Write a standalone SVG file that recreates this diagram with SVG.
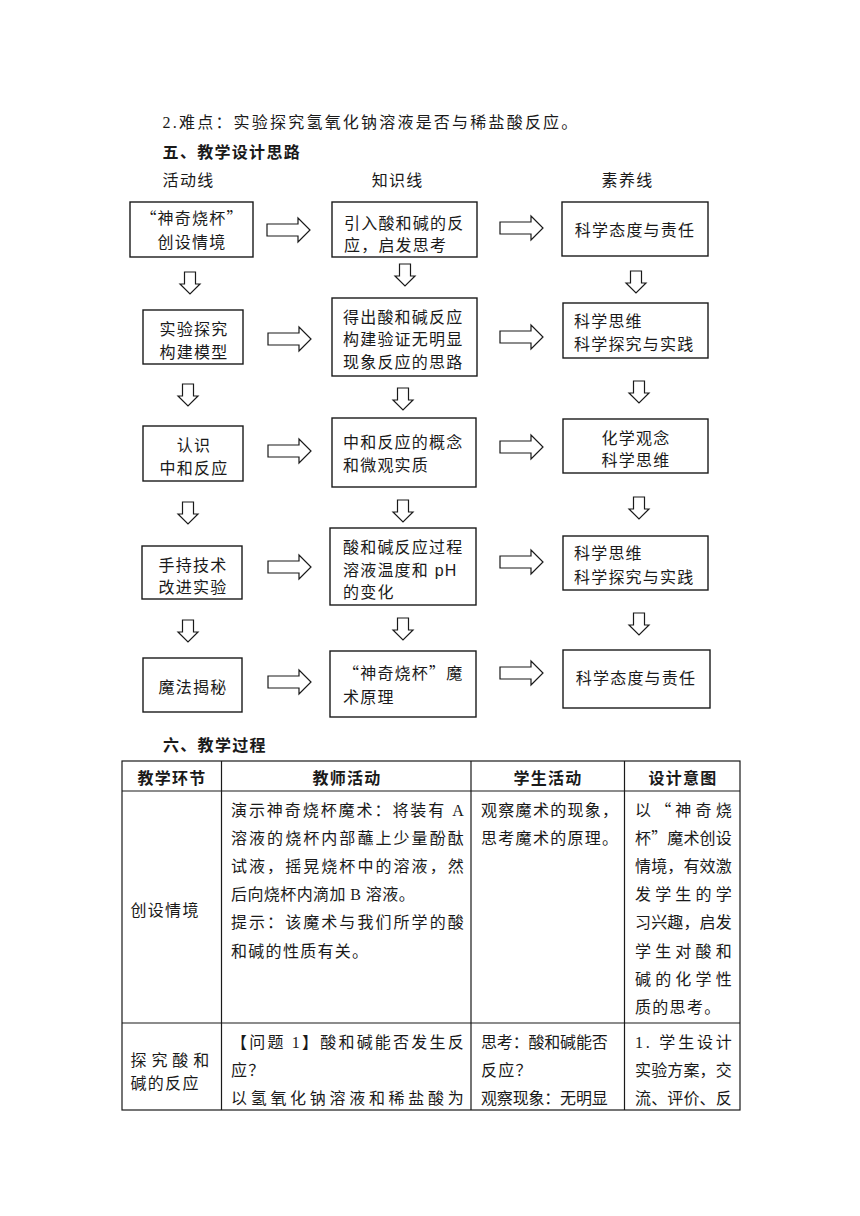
<svg xmlns="http://www.w3.org/2000/svg" width="860" height="1216" viewBox="0 0 860 1216">
<defs>
<style>
.t{font-family:"Liberation Serif","Noto Sans CJK SC",serif;font-size:16px;fill:#1a1a1a;letter-spacing:1.3px}
.f{font-family:"Liberation Sans","Noto Sans CJK SC",sans-serif;font-size:16px;fill:#1a1a1a;letter-spacing:1.2px}
.q{font-family:"Noto Sans CJK SC",sans-serif}
.m{text-anchor:middle}
.b{font-weight:bold}
.box{fill:#fff;stroke:#1a1a1a;stroke-width:1.4}
.arr{fill:#fff;stroke:#1a1a1a;stroke-width:1.2}
.tl{stroke:#1a1a1a;stroke-width:1.2;fill:none}
</style>
<path id="ra" d="M0,-6H31V-12L43,0L31,12V6H0Z"/>
<path id="da" d="M-5.5,0H5.5V12H10L0,22L-10,12H-5.5Z"/>
</defs>
<rect width="860" height="1216" fill="#fff"/>

<g id="heading">
<text class="t" x="162.6" y="128" textLength="416" lengthAdjust="spacing">2.难点：实验探究氢氧化钠溶液是否与稀盐酸反应。</text>
<text class="t b" x="162.6" y="158">五、教学设计思路</text>
<text class="t" x="162.6" y="186">活动线</text>
<text class="t" x="371.7" y="186">知识线</text>
<text class="t" x="601.6" y="186">素养线</text>
</g>

<g id="connectors">
<use href="#ra" class="arr" x="267" y="230"/>
<use href="#ra" class="arr" x="500" y="228"/>
<use href="#ra" class="arr" x="268" y="339"/>
<use href="#ra" class="arr" x="500" y="337"/>
<use href="#ra" class="arr" x="268" y="451"/>
<use href="#ra" class="arr" x="500" y="447"/>
<use href="#ra" class="arr" x="268" y="567"/>
<use href="#ra" class="arr" x="500" y="562"/>
<use href="#ra" class="arr" x="268" y="682"/>
<use href="#ra" class="arr" x="500" y="673"/>
<use href="#da" class="arr" x="190" y="272"/>
<use href="#da" class="arr" x="188" y="384"/>
<use href="#da" class="arr" x="188" y="502"/>
<use href="#da" class="arr" x="188" y="620"/>
<use href="#da" class="arr" x="405" y="264"/>
<use href="#da" class="arr" x="403" y="388"/>
<use href="#da" class="arr" x="403" y="500"/>
<use href="#da" class="arr" x="403" y="618"/>
<use href="#da" class="arr" x="636" y="271"/>
<use href="#da" class="arr" x="639" y="381"/>
<use href="#da" class="arr" x="639" y="497"/>
<use href="#da" class="arr" x="639" y="613"/>
</g>

<g id="a1"><rect class="box" x="130" y="202" width="123" height="55"/>
<text class="f m" x="192" y="224"><tspan class="q">“</tspan>神奇烧杯<tspan class="q">”</tspan></text><text class="f m" x="192" y="248">创设情境</text></g>
<g id="b1"><rect class="box" x="332" y="202" width="145" height="55"/>
<text class="f" x="344" y="229">引入酸和碱的反</text><text class="f" x="344" y="251">应，启发思考</text></g>
<g id="c1"><rect class="box" x="562" y="202" width="146" height="54"/>
<text class="f m" x="635" y="236">科学态度与责任</text></g>

<g id="a2"><rect class="box" x="143" y="310" width="100" height="54"/>
<text class="f m" x="194" y="335">实验探究</text><text class="f m" x="194" y="358">构建模型</text></g>
<g id="b2"><rect class="box" x="332" y="298" width="145" height="78"/>
<text class="f" x="343" y="323">得出酸和碱反应</text><text class="f" x="343" y="345">构建验证无明显</text><text class="f" x="343" y="368">现象反应的思路</text></g>
<g id="c2"><rect class="box" x="563" y="303" width="145" height="55"/>
<text class="f" x="574" y="327">科学思维</text><text class="f" x="574" y="350">科学探究与实践</text></g>

<g id="a3"><rect class="box" x="143" y="426" width="100" height="55"/>
<text class="f m" x="194" y="451">认识</text><text class="f m" x="194" y="474">中和反应</text></g>
<g id="b3"><rect class="box" x="332" y="418" width="144" height="69"/>
<text class="f" x="343" y="448">中和反应的概念</text><text class="f" x="343" y="471">和微观实质</text></g>
<g id="c3"><rect class="box" x="563" y="419" width="145" height="54"/>
<text class="f m" x="636" y="444">化学观念</text><text class="f m" x="636" y="466">科学思维</text></g>

<g id="a4"><rect class="box" x="142" y="546" width="100" height="53"/>
<text class="f m" x="193" y="571">手持技术</text><text class="f m" x="193" y="593">改进实验</text></g>
<g id="b4"><rect class="box" x="330" y="528" width="146" height="77"/>
<text class="f" x="343" y="553">酸和碱反应过程</text><text class="f" x="343" y="576">溶液温度和 pH</text><text class="f" x="343" y="598">的变化</text></g>
<g id="c4"><rect class="box" x="563" y="536" width="145" height="54"/>
<text class="f" x="574" y="559">科学思维</text><text class="f" x="574" y="583">科学探究与实践</text></g>

<g id="a5"><rect class="box" x="143" y="658" width="99" height="54"/>
<text class="f m" x="193" y="693">魔法揭秘</text></g>
<g id="b5"><rect class="box" x="330" y="651" width="146" height="66"/>
<text class="f" x="343" y="679"><tspan class="q">“</tspan>神奇烧杯<tspan class="q">”</tspan>魔</text><text class="f" x="343" y="703">术原理</text></g>
<g id="c5"><rect class="box" x="563" y="650" width="147" height="58"/>
<text class="f m" x="636" y="684">科学态度与责任</text></g>

<g id="table">
<text class="t b" x="163" y="751">六、教学过程</text>
<rect class="tl" x="122" y="761" width="618" height="349"/>
<path class="tl" d="M122,791H740M122,1023H740M221.5,761V1110M471,761V1110M624.5,761V1110"/>
<text class="t b m" x="172" y="784">教学环节</text>
<text class="t b m" x="347" y="784">教师活动</text>
<text class="t b m" x="548" y="784">学生活动</text>
<text class="t b m" x="683" y="784">设计意图</text>

<text class="t" x="130.5" y="916">创设情境</text>
<text class="t" x="231" y="816" textLength="234" lengthAdjust="spacing">演示神奇烧杯魔术：将装有 A</text>
<text class="t" x="231" y="844.1" textLength="234" lengthAdjust="spacing">溶液的烧杯内部蘸上少量酚酞</text>
<text class="t" x="231" y="872.2" textLength="234" lengthAdjust="spacing">试液，摇晃烧杯中的溶液，然</text>
<text class="t" x="231" y="900.3" textLength="185" lengthAdjust="spacing">后向烧杯内滴加 B 溶液。</text>
<text class="t" x="231" y="928.4" textLength="234" lengthAdjust="spacing">提示：该魔术与我们所学的酸</text>
<text class="t" x="231" y="956.5">和碱的性质有关。</text>
<text class="t" x="481" y="816">观察魔术的现象，</text>
<text class="t" x="481" y="844.1">思考魔术的原理。</text>
<text class="t" x="635" y="816" textLength="98" lengthAdjust="spacing">以<tspan class="q">“</tspan>神奇烧</text>
<text class="t" x="635" y="844.1" textLength="98" lengthAdjust="spacing">杯<tspan class="q">”</tspan>魔术创设</text>
<text class="t" x="635" y="872.2" textLength="98" lengthAdjust="spacing">情境，有效激</text>
<text class="t" x="635" y="900.3" textLength="98" lengthAdjust="spacing">发学生的学</text>
<text class="t" x="635" y="928.4" textLength="98" lengthAdjust="spacing">习兴趣，启发</text>
<text class="t" x="635" y="956.5" textLength="98" lengthAdjust="spacing">学生对酸和</text>
<text class="t" x="635" y="984.6" textLength="98" lengthAdjust="spacing">碱的化学性</text>
<text class="t" x="635" y="1012.7">质的思考。</text>

<text class="t" x="130.5" y="1066" textLength="80" lengthAdjust="spacing">探究酸和</text>
<text class="t" x="130.5" y="1089">碱的反应</text>
<text class="t" x="231" y="1047.5" textLength="234" lengthAdjust="spacing">【问题 1】酸和碱能否发生反</text>
<text class="t" x="231" y="1075.7">应？</text>
<text class="t" x="231" y="1103.9" textLength="234" lengthAdjust="spacing">以氢氧化钠溶液和稀盐酸为</text>
<text class="t" x="481" y="1047.5" textLength="128" lengthAdjust="spacing">思考：酸和碱能否</text>
<text class="t" x="481" y="1075.7">反应？</text>
<text class="t" x="481" y="1103.9" textLength="128" lengthAdjust="spacing">观察现象：无明显</text>
<text class="t" x="635" y="1047.5" textLength="98" lengthAdjust="spacing">1. 学生设计</text>
<text class="t" x="635" y="1075.7" textLength="98" lengthAdjust="spacing">实验方案，交</text>
<text class="t" x="635" y="1103.9" textLength="98" lengthAdjust="spacing">流、评价、反</text>
</g>
</svg>
